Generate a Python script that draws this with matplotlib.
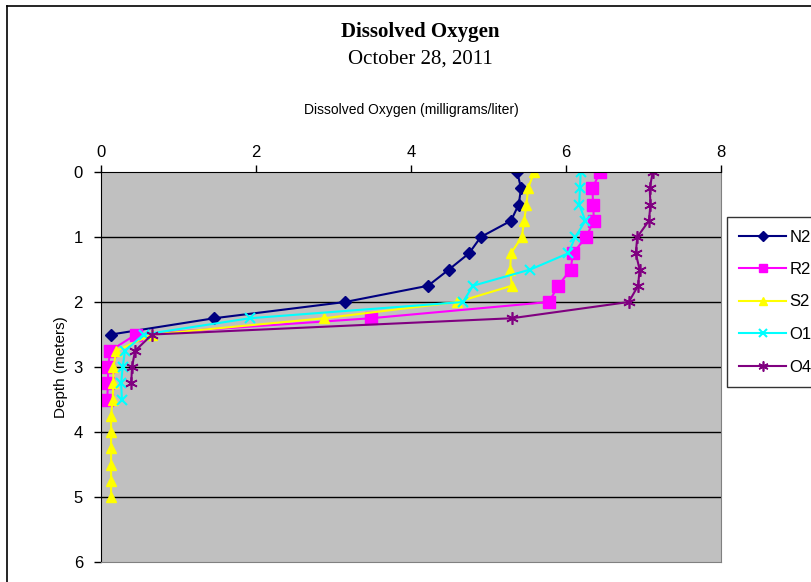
import matplotlib.pyplot as plt
from matplotlib.lines import Line2D

# depths in meters (0.25 m steps)
depth_n2 = [0, 0.25, 0.5, 0.75, 1.0, 1.25, 1.5, 1.75, 2.0, 2.25, 2.5]
n2 = [5.37, 5.42, 5.39, 5.29, 4.90, 4.75, 4.49, 4.22, 3.15, 1.46, 0.13]

depth_r2 = [0, 0.25, 0.5, 0.75, 1.0, 1.25, 1.5, 1.75, 2.0, 2.25, 2.5, 2.75, 3.0, 3.25, 3.5]
r2 = [6.44, 6.34, 6.35, 6.36, 6.26, 6.09, 6.06, 5.90, 5.78, 3.48, 0.45, 0.12, 0.09, 0.09, 0.08]

depth_s2 = [0, 0.25, 0.5, 0.75, 1.0, 1.25, 1.5, 1.75, 2.0, 2.25, 2.5, 2.75, 3.0, 3.25,
            3.5, 3.75, 4.0, 4.25, 4.5, 4.75, 5.0]
s2 = [5.59, 5.51, 5.49, 5.46, 5.43, 5.29, 5.28, 5.30, 4.60, 2.88, 0.66, 0.20, 0.16, 0.16,
      0.15, 0.13, 0.13, 0.13, 0.13, 0.13, 0.13]

depth_o1 = [0, 0.25, 0.5, 0.75, 1.0, 1.25, 1.5, 1.75, 2.0, 2.25, 2.5, 2.75, 3.0, 3.25, 3.5]
o1 = [6.19, 6.18, 6.17, 6.25, 6.12, 6.03, 5.54, 4.80, 4.67, 1.92, 0.55, 0.31, 0.28, 0.26, 0.27]

depth_o4 = [0, 0.25, 0.5, 0.75, 1.0, 1.25, 1.5, 1.75, 2.0, 2.25, 2.5, 2.75, 3.0, 3.25]
o4 = [7.12, 7.08, 7.09, 7.07, 6.92, 6.90, 6.95, 6.93, 6.81, 5.30, 0.66, 0.44, 0.40, 0.39]

W, H = 812, 582
fig = plt.figure(figsize=(W / 100, H / 100), dpi=100)
ax = fig.add_axes([101 / W, 1 - 562 / H, 620 / W, 390 / H])
ax.set_facecolor("#c0c0c0")

ax.plot(n2, depth_n2, color="#000080", marker="D", markersize=6, lw=1.5, label="N2")
ax.plot(r2, depth_r2, color="#ff00ff", marker="s", markersize=8, lw=1.5, label="R2")
ax.plot(s2, depth_s2, color="#ffff00", marker="^", markersize=7, lw=1.5, label="S2")
ax.plot(o1, depth_o1, color="#00ffff", marker="x", markersize=7, mew=1.5, lw=1.5, label="O1")
ax.plot(o4, depth_o4, color="#800080", marker=(6, 2, 0), markersize=9, mew=1.2, lw=1.5, label="O4")

ax.set_xlim(0, 8)
ax.set_ylim(6, 0)
ax.set_xticks([0, 2, 4, 6, 8])
ax.set_yticks([0, 1, 2, 3, 4, 5, 6])
ax.xaxis.tick_top()
ax.xaxis.set_label_position("top")
for y in [1, 2, 3, 4, 5]:
    ax.axhline(y, color="black", lw=1.0, zorder=1)

ax.tick_params(axis="both", labelsize=12, direction="out", length=5, width=1, colors="black")
for lab in ax.get_xticklabels() + ax.get_yticklabels():
    lab.set_fontfamily("Liberation Sans")
ax.tick_params(axis="x", pad=4)
ax.tick_params(axis="y", pad=8)

ax.spines["top"].set_color("black")
ax.spines["left"].set_color("black")
ax.spines["right"].set_color("#808080")
ax.spines["bottom"].set_color("#808080")

ax.set_xlabel("Dissolved Oxygen (milligrams/liter)", fontsize=10, family="Liberation Sans", labelpad=22)
ax.set_ylabel("Depth (meters)", fontsize=11, family="Liberation Sans", labelpad=4)

fig.text(420 / W, 1 - 32 / H, "Dissolved Oxygen", ha="center", va="center",
         fontsize=15, fontweight="bold", family="Liberation Serif")
fig.text(420 / W, 1 - 59 / H, "October 28, 2011", ha="center", va="center",
         fontsize=15, family="Liberation Serif")

leg = ax.legend(loc="upper left", bbox_to_anchor=(727 / W, 1 - 217 / H),
                bbox_transform=fig.transFigure, frameon=True, fancybox=False,
                prop={"family": "Liberation Sans", "size": 12}, handlelength=2.8,
                labelspacing=1.05, borderpad=0.75, handletextpad=0.2, borderaxespad=0,
                markerscale=0.8)
leg.get_frame().set_edgecolor("black")
leg.get_frame().set_linewidth(1.0)

# outer chart border
fig.add_artist(Line2D([7 / W, 7 / W], [0, 1 - 6 / H], color="black", lw=1.2))
fig.add_artist(Line2D([7 / W, 1], [1 - 6 / H, 1 - 6 / H], color="black", lw=1.2))

fig.savefig("out.png", dpi=100)
